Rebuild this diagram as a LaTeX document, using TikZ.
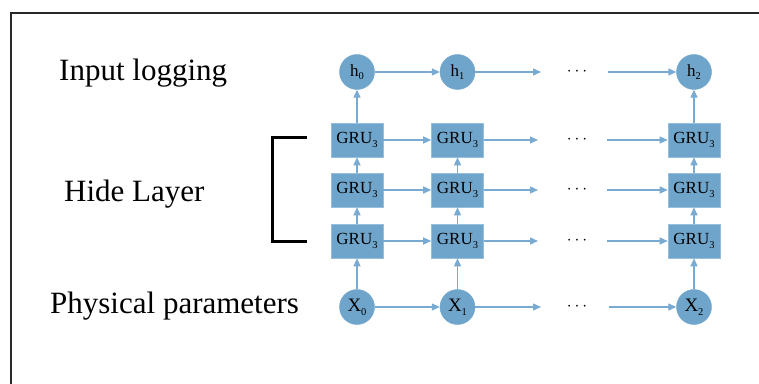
\documentclass[tikz,border=0pt]{standalone}
\usepackage{fontspec}
\setmainfont{Liberation Serif}
\usetikzlibrary{arrows.meta}
\definecolor{nodeblue}{RGB}{111,165,203}
\definecolor{edgeblue}{RGB}{150,190,222}
\definecolor{arrowblue}{RGB}{120,170,210}
\definecolor{framegray}{RGB}{40,40,40}
\newcommand{\mysub}[1]{\raisebox{-0.45ex}{\fontsize{10.5}{10.5}\selectfont #1}}
\tikzset{
  grubox/.style={rectangle, fill=nodeblue, draw=edgeblue, line width=0.6pt, minimum width=52pt, minimum height=34pt, inner sep=0pt, font=\fontsize{17}{17}\selectfont},
  cnode/.style={circle, fill=nodeblue, draw=nodeblue, minimum size=35pt, inner sep=0pt, font=\fontsize{17}{17}\selectfont},
  xnode/.style={cnode, font=\fontsize{19}{19}\selectfont},
  conn/.style={draw=arrowblue, line width=1.3pt, -{Triangle[length=8pt,width=7pt]}},
  dotnode/.style={inner sep=0pt, font=\fontsize{18}{18}\selectfont},
  rowlabel/.style={anchor=base west, inner sep=0pt, font=\fontsize{31}{36}\selectfont},
  bracket/.style={draw=black, line width=3pt},
  framebox/.style={draw=framegray, line width=2pt}
}
\begin{document}
\begin{tikzpicture}[x=1pt,y=1pt]
\useasboundingbox (0,0) rectangle (759,383);
\clip (0,0) rectangle (759,383);
\fill[white] (0,0) rectangle (759,383);
\draw[framebox] (11,-20) -- (11,370) -- (780,370);

% labels
\node[rowlabel] (lin) at (59,302) {Input logging};
\node[rowlabel] (lhid) at (64,182) {Hide Layer};
\node[rowlabel] (lphy) at (50,70) {Physical parameters};

% bracket
\coordinate (bt) at (307,245);
\coordinate (btl) at (272,245);
\coordinate (bbl) at (272,142);
\coordinate (bb) at (307,142);
\draw[bracket] (bt) -- (btl) -- (bbl) -- (bb);

% nodes
\node[cnode] (h0) at (357,311) {h\mysub{0}};
\node[cnode] (h1) at (457.5,311) {h\mysub{1}};
\node[cnode] (h2) at (694,311) {h\mysub{2}};

\node[grubox] (g30) at (357,243) {GRU\mysub{3}};
\node[grubox] (g31) at (457.5,243) {GRU\mysub{3}};
\node[grubox] (g32) at (694,243) {GRU\mysub{3}};

\node[grubox] (g20) at (357,193) {GRU\mysub{3}};
\node[grubox] (g21) at (457.5,193) {GRU\mysub{3}};
\node[grubox] (g22) at (694,193) {GRU\mysub{3}};

\node[grubox] (g10) at (357,142) {GRU\mysub{3}};
\node[grubox] (g11) at (457.5,142) {GRU\mysub{3}};
\node[grubox] (g12) at (694,142) {GRU\mysub{3}};

\node[xnode] (x0) at (357,76) {X\mysub{0}};
\node[xnode] (x1) at (457.5,76) {X\mysub{1}};
\node[xnode] (x2) at (694,76) {X\mysub{2}};

% dots
\node[dotnode] (dh) at (577,311) {$\cdots$};
\node[dotnode] (d3) at (577,243) {$\cdots$};
\node[dotnode] (d2) at (577,193) {$\cdots$};
\node[dotnode] (d1) at (577,142) {$\cdots$};
\node[dotnode] (dx) at (577,76) {$\cdots$};

% arrow endpoints around dots
\coordinate (eh) at (541,311);
\coordinate (sh) at (608,311);
\coordinate (e3) at (538,243);
\coordinate (s3) at (607,243);
\coordinate (e2) at (538,193);
\coordinate (s2) at (607,193);
\coordinate (e1) at (538,142);
\coordinate (s1) at (607,142);
\coordinate (ex) at (541,76);
\coordinate (sx) at (609,76);

% horizontal connectors
\draw[conn] (h0) -- (h1);
\draw[conn] (h1) -- (eh);
\draw[conn] (sh) -- (h2);
\draw[conn] (g30) -- (g31);
\draw[conn] (g31) -- (e3);
\draw[conn] (s3) -- (g32);
\draw[conn] (g20) -- (g21);
\draw[conn] (g21) -- (e2);
\draw[conn] (s2) -- (g22);
\draw[conn] (g10) -- (g11);
\draw[conn] (g11) -- (e1);
\draw[conn] (s1) -- (g12);
\draw[conn] (x0) -- (x1);
\draw[conn] (x1) -- (ex);
\draw[conn] (sx) -- (x2);

% vertical connectors
\draw[conn] (x0) -- (g10);
\draw[conn] (g10) -- (g20);
\draw[conn] (g20) -- (g30);
\draw[conn] (g30) -- (h0);
\draw[conn] (x1) -- (g11);
\draw[conn] (g11) -- (g21);
\draw[conn] (g21) -- (g31);
\draw[conn] (x2) -- (g12);
\draw[conn] (g12) -- (g22);
\draw[conn] (g22) -- (g32);
\draw[conn] (g32) -- (h2);
\end{tikzpicture}
\end{document}
